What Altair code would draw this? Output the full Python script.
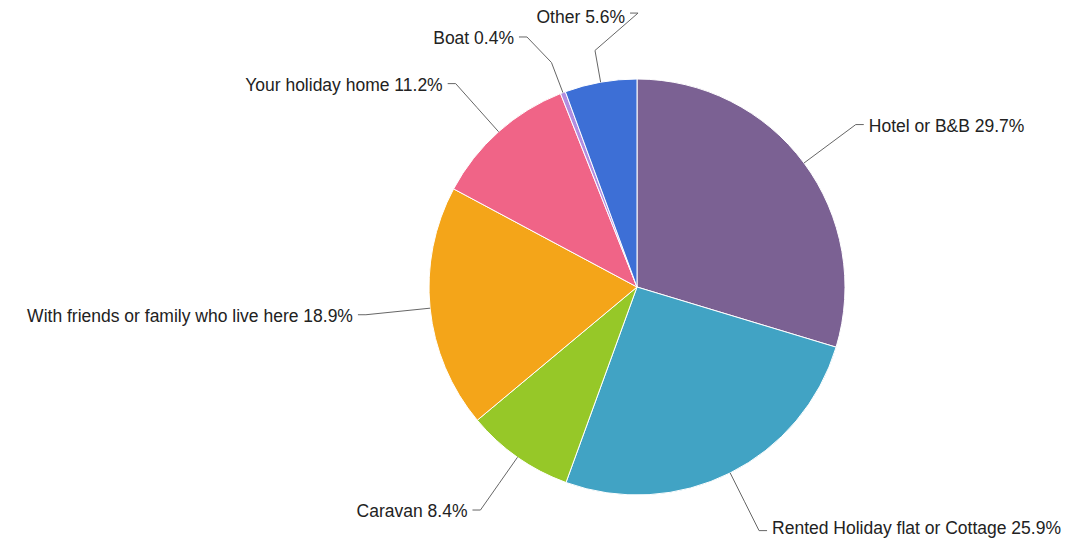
import math
import altair as alt
import pandas as pd

# ---- data ----
categories = [
    "Hotel or B&B",
    "Rented Holiday flat or Cottage",
    "Caravan",
    "With friends or family who live here",
    "Your holiday home",
    "Boat",
    "Other",
]
shares = [29.7, 25.9, 8.4, 18.9, 11.2, 0.4, 5.6]
colors = ["#7B6193", "#41A3C4", "#96C828", "#F4A519", "#F06487", "#B28DE0", "#3D6FD6"]

# ---- layout ----
W, H = 1055, 530          # plot area (page minus 8px margins)
CX, CY, R = 629, 279, 208  # pie centre and radius in pixels
BREAK_R = 1.155            # connector break (in radius units)
ELBOW_R = 1.31             # label elbow (in radius units)
HSEG = 8 / R               # horizontal connector piece
TEXT_DROP = 2              # text sits ~2px below the elbow
EDGE_GAP = 10              # keep text centre this far inside the canvas
FONT_SIZE = 17.5
# label elbows moved to avoid overlaps (radius units, y up)
ELBOW_OVERRIDE = {"Boat": (-0.529, 1.202), "Other": (0.005, 1.317)}

total = sum(shares)
pie = pd.DataFrame({"category": categories, "share": shares, "idx": range(len(categories))})
pie["label"] = [f"{c} {s:.1f}%" for c, s in zip(categories, shares)]

line_rows, text_rows = [], []
cum = 0.0
for cat, s, lab in zip(categories, shares, pie["label"]):
    a = (cum + s / 2) / total * 2 * math.pi
    cum += s
    ux, uy = math.sin(a), math.cos(a)
    side = 1 if ux > 0 else -1
    p0 = (ux, uy)
    pb = (ux * BREAK_R, uy * BREAK_R)
    p1 = ELBOW_OVERRIDE.get(cat, (ux * ELBOW_R, uy * ELBOW_R))
    p2 = (p1[0] + side * HSEG, p1[1])
    for k, (px, py) in enumerate([p0, pb, p1, p2]):
        line_rows.append({"category": cat, "k": k, "x": px, "y": py})
    ty_px = CY - p2[1] * R + TEXT_DROP
    ty_px = min(max(ty_px, EDGE_GAP), H - EDGE_GAP + 1)
    text_rows.append({"label": lab, "x": p2[0], "y": (CY - ty_px) / R,
                      "side": "right" if side > 0 else "left"})

lines = pd.DataFrame(line_rows)
texts = pd.DataFrame(text_rows)

xs = alt.Scale(domain=[-CX / R, (W - CX) / R], nice=False, zero=False)
ys = alt.Scale(domain=[-(H - CY) / R, CY / R], nice=False, zero=False)

arc = alt.Chart(pie).mark_arc(outerRadius=R, stroke="white", strokeWidth=1).encode(
    theta=alt.Theta("share:Q", stack=True),
    color=alt.Color("category:N", scale=alt.Scale(domain=categories, range=colors), legend=None),
    order=alt.Order("idx:Q"),
    x=alt.value(CX),
    y=alt.value(CY),
)

conn = alt.Chart(lines).mark_line(color="#666666", strokeWidth=1).encode(
    x=alt.X("x:Q", scale=xs, axis=None),
    y=alt.Y("y:Q", scale=ys, axis=None),
    detail="category:N",
    order="k:Q",
)

font = dict(font="Liberation Sans", fontSize=FONT_SIZE, color="#222222", baseline="middle")
txt_r = alt.Chart(texts).transform_filter(alt.datum.side == "right").mark_text(
    align="left", dx=5, **font
).encode(x=alt.X("x:Q", scale=xs, axis=None), y=alt.Y("y:Q", scale=ys, axis=None), text="label:N")
txt_l = alt.Chart(texts).transform_filter(alt.datum.side == "left").mark_text(
    align="right", dx=-5, **font
).encode(x=alt.X("x:Q", scale=xs, axis=None), y=alt.Y("y:Q", scale=ys, axis=None), text="label:N")

chart = (
    alt.layer(arc, conn, txt_r, txt_l)
    .properties(width=W, height=H, autosize=alt.AutoSizeParams(type="none"), padding=0)
    .configure_view(stroke=None)
)

chart.save("out.html", embed_options={"renderer": "svg", "actions": False})
